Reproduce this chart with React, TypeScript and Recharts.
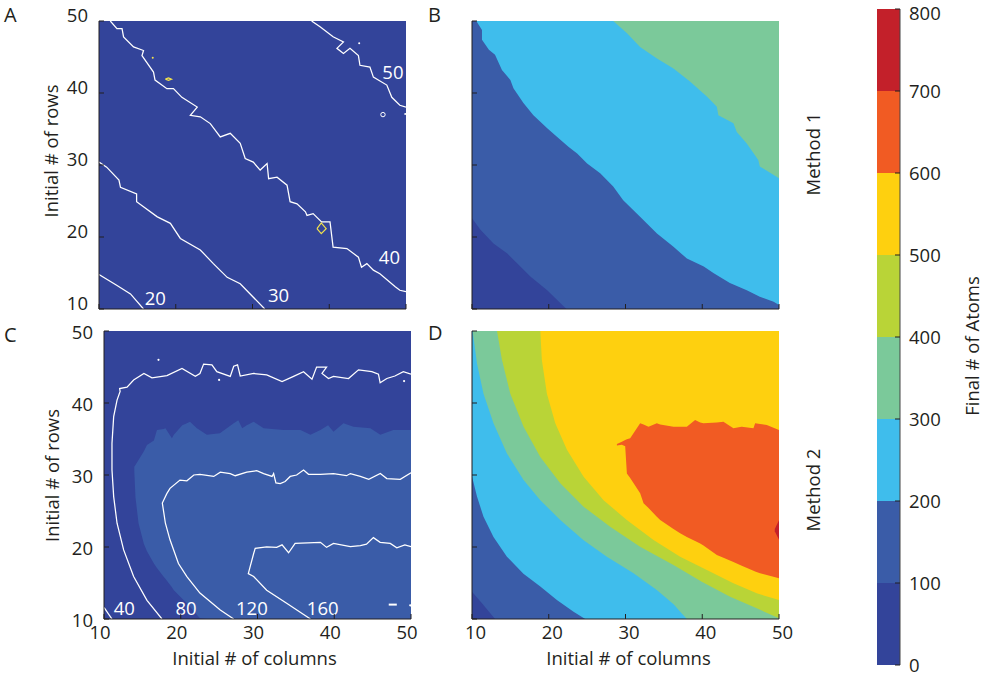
import React from 'react';
import { ComposedChart, BarChart, Bar, Area, Line, Scatter, XAxis, YAxis } from 'recharts';

type Pt = [number, number];
type Side = 'bottom' | 'top' | 'left' | 'right';

const INK = '#231f20';
const FONT = "'Open Sans', 'Liberation Sans', Arial, sans-serif";
const FS = 18.5;

// colour bar: one colour per 100 atoms
const BAND_EDGES = [0, 100, 200, 300, 400, 500, 600, 700, 800];
const BAND_COLORS = ['#33449a', '#3a5ca8', '#3fbdec', '#7bc99a', '#b9d437', '#fed00f', '#f15b23', '#c3202a'];
const GRID_TICKS = [10, 20, 30, 40, 50];
const FULL: Pt[] = [[10, 50], [50, 50]];

// ---- panel A (method 1, contour lines) ----
const A_C20: Pt[] = [[10, 14.8], [12.3, 13.3], [14.1, 12.1], [15.8, 10]];
const A_C30: Pt[] = [[10, 30.4], [11.0, 29.7], [12.6, 27.9], [12.8, 26.9], [14.9, 26.0], [14.9, 24.9], [17.6, 22.8], [19.3, 21.9], [20.6, 19.8], [23.2, 18.2], [24.9, 16.3], [26.7, 14.4], [28.4, 13.5], [31.6, 10]];
const A_C40: Pt[] = [[11.47, 50], [12.34, 48.94], [13.0, 48.94], [13.2, 47.78], [14.5, 46.4], [15.8, 45.9], [15.6, 45.2], [17.1, 42.9], [17.3, 41.8], [18.85, 40.6], [19.7, 40.6], [20.8, 39.4], [22.8, 38.05], [21.9, 36.9], [23.2, 36.7], [24.5, 35.75], [25.8, 33.9], [27.1, 34.4], [28.4, 33.0], [29.05, 30.9], [30.1, 30.4], [31.0, 29.3], [31.9, 30.2], [32.1, 28.1], [33.2, 28.3], [34.5, 27.2], [34.9, 24.9], [35.8, 24.6], [36.9, 23.5], [37.1, 23.0], [37.9, 23.25], [39.0, 22.1], [40.1, 22.1], [40.5, 18.6], [42.3, 18.4], [43.8, 17.2], [44.2, 15.8], [44.9, 16.3], [45.75, 15.4], [46.6, 14.9], [48.6, 13.1], [49.2, 12.6], [50, 12.4]];
const A_C50: Pt[] = [[37.7, 50], [38.8, 49.2], [40.5, 47.8], [41.85, 47.1], [41.0, 46.2], [41.85, 45.5], [42.7, 46.2], [43.8, 45.2], [44.0, 43.85], [45.3, 43.6], [45.75, 42.2], [47.5, 41.1], [48.15, 39.4], [49.2, 38.3], [50, 38.05]];
const A_YELLOW1: Pt[] = [[38.4, 21.15], [38.96, 21.95], [39.6, 21.15], [38.96, 20.47], [38.4, 21.15]];
const A_YELLOW2: Pt[] = [[18.65, 41.92], [19.05, 42.1], [19.45, 41.92], [19.05, 41.75], [18.65, 41.92]];
const A_YELLOW_DOTS: Pt[] = [[17.0, 44.9]];
const A_WHITE_DOTS: Pt[] = [[43.9, 46.9], [49.9, 37.1]];
const A_RINGS: Pt[] = [[47.0, 37.0]];
const A_LABEL_AT: Pt[] = [[17.33, 11.44], [33.4, 11.9], [47.84, 17.2], [48.3, 42.9]];
const A_LABEL_TEXT = ['20', '30', '40', '50'];

// ---- panel B (method 1, filled) ----
const B_C100: Pt[] = [[10, 22.6], [11.1, 21.0], [12.8, 19.1], [14.6, 17.7], [16.3, 15.9], [17.6, 14.5], [19.8, 12.6], [22.3, 10]];
const B_C200: Pt[] = [[10.56, 50], [11.3, 48.75], [11.3, 47.4], [12.2, 46.0], [13.0, 45.3], [13.9, 43.2], [15.0, 41.8], [15.4, 40.65], [16.7, 38.6], [18.0, 36.9], [19.8, 35.1], [21.1, 33.9], [22.6, 32.5], [23.7, 31.6], [25.0, 30.2], [26.7, 28.85], [28.4, 27.0], [29.7, 25.1], [31.9, 22.8], [34.1, 20.5], [36.25, 18.65], [38.0, 17.0], [40.2, 15.9], [41.5, 14.96], [43.6, 13.6], [45.8, 12.6], [47.5, 11.7], [49.3, 11.0], [50, 10.55]];
const B_C300: Pt[] = [[28.4, 50], [30.2, 48.3], [31.9, 46.4], [34.1, 44.8], [36.25, 43.4], [38.4, 41.6], [40.6, 39.5], [41.9, 38.1], [42.1, 36.9], [44.06, 35.8], [44.5, 34.6], [45.8, 33.0], [47.3, 30.7], [47.5, 29.8], [50, 28.15]];

// ---- panel C (method 2, contour lines) ----
const C_C40: Pt[] = [[10, 11.6], [11.04, 10]];
const C_C80: Pt[] = [[17.55, 10], [15.6, 12.6], [13.86, 15.9], [12.56, 19.6], [11.7, 23.3], [11.26, 27.0], [11.04, 30.7], [11.04, 34.4], [11.26, 38.1], [11.7, 40.4], [12.1, 41.6], [12.04, 42.0], [13.0, 42.2], [13.86, 43.2], [15.2, 44.1], [16.25, 43.5], [18.2, 43.8], [20.16, 44.8], [21.9, 43.7], [22.5, 44.1], [22.98, 45.4], [24.06, 45.3], [24.7, 44.35], [26.45, 43.7], [26.9, 45.1], [27.4, 45.3], [27.75, 43.75], [29.5, 44.1], [31.2, 43.9], [33.2, 42.96], [34.7, 43.7], [36.0, 44.35], [37.1, 43.3], [37.7, 45.0], [39.0, 45.0], [38.4, 44.1], [39.25, 43.4], [39.9, 43.7], [41.86, 43.4], [43.16, 44.6], [44.9, 44.35], [45.76, 44.0], [45.98, 42.8], [46.85, 43.4], [47.9, 43.75], [49.0, 44.35], [50, 44.0]];
const C_C120: Pt[] = [[26.9, 10], [25.15, 11.25], [22.5, 13.6], [20.8, 15.9], [19.7, 17.7], [18.6, 21.0], [18.0, 23.3], [17.6, 26.1], [18.2, 27.45], [18.6, 28.15], [19.9, 29.3], [20.8, 29.2], [21.7, 30.0], [22.5, 30.1], [24.3, 29.8], [25.15, 30.4], [26.45, 30.2], [27.1, 29.9], [28.6, 30.4], [29.9, 30.6], [30.8, 30.2], [31.9, 29.8], [32.1, 30.2], [32.4, 28.9], [32.96, 28.8], [33.6, 29.1], [34.26, 29.8], [35.1, 30.0], [36.0, 30.7], [36.65, 30.1], [38.2, 30.1], [39.9, 30.2], [41.6, 29.9], [42.1, 30.2], [43.4, 29.8], [44.5, 29.4], [46.0, 30.2], [46.85, 29.5], [48.6, 29.4], [50, 30.3]];
const C_C160: Pt[] = [[36.9, 10], [33.8, 12.2], [31.2, 14.0], [29.5, 15.9], [28.8, 16.3], [29.5, 19.1], [29.7, 19.8], [31.2, 20.0], [32.5, 19.95], [33.2, 20.3], [34.05, 19.2], [34.9, 20.5], [38.2, 20.65], [39.0, 19.95], [39.9, 20.5], [42.1, 20.05], [43.4, 20.2], [44.2, 20.4], [45.1, 21.3], [45.98, 20.65], [47.3, 20.5], [48.15, 19.9], [49.2, 20.3], [50, 20.05]];
const C_DASH: Pt[] = [[47.1, 12.0], [48.15, 12.0]];
const C_WHITE_DOTS: Pt[] = [[17.1, 46.0], [25.0, 43.2], [49.1, 43.05], [49.9, 11.9]];
// 100-200 band, lower and upper edge at each column value
const C_LIGHT_X = [13.95, 14.1, 14.5, 15.2, 15.6, 16.5, 16.9, 17.8, 18.0, 18.85, 19.1, 20.2, 20.8, 21.2, 22.1, 22.5, 23.4, 25.1, 26.9, 27.5, 28.0, 28.6, 29.5, 30.8, 33.4, 35.6, 36.9, 38.2, 39.2, 39.9, 41.2, 42.5, 44.7, 46.0, 47.7, 50];
const C_LIGHT_LO = [30.5, 26.9, 23.3, 20.4, 19.4, 17.7, 17.1, 15.85, 15.6, 14.4, 14.0, 12.8, 12.18, 11.7, 10.6, 10.1, 10, 10, 10, 10, 10, 10, 10, 10, 10, 10, 10, 10, 10, 10, 10, 10, 10, 10, 10, 10];
const C_LIGHT_HI = [31.16, 31.4, 32.1, 33.3, 34.17, 34.8, 36.25, 36.4, 36.5, 35.1, 35.6, 36.9, 37.2, 37.4, 36.5, 36.2, 35.6, 35.8, 37.2, 37.6, 36.5, 36.9, 37.4, 36.5, 36.25, 36.25, 35.6, 36.25, 36.9, 36.0, 37.2, 36.7, 36.5, 35.6, 36.25, 36.25];
const C_LABEL_AT: Pt[] = [[12.65, 11.48], [20.68, 11.48], [29.27, 11.48], [38.5, 11.48]];
const C_LABEL_TEXT = ['40', '80', '120', '160'];

// ---- panel D (method 2, filled) ----
const D_C100: Pt[] = [[10, 13.8], [11.3, 12.2], [13.0, 10]];
const D_C200: Pt[] = [[10, 29.8], [10.65, 27.0], [11.5, 24.2], [12.8, 21.4], [14.55, 18.66], [16.7, 16.3], [18.9, 14.5], [21.06, 12.64], [23.23, 11.0], [24.75, 10], [50, 10]];
const D_C300: Pt[] = [[10.08, 50], [10.65, 45.5], [11.5, 41.3], [12.8, 37.2], [14.55, 33.0], [16.72, 29.3], [18.9, 26.5], [21.5, 23.75], [24.5, 20.97], [27.57, 18.66], [31.05, 16.34], [34.08, 14.03], [36.3, 12.0], [37.3, 10.8], [38.0, 10], [50, 10]];
const D_C400: Pt[] = [[13.26, 50], [13.9, 46.0], [14.99, 41.3], [16.72, 36.7], [18.9, 32.5], [21.5, 28.84], [24.54, 25.6], [28.0, 22.8], [31.9, 20.05], [36.25, 17.5], [39.94, 15.19], [43.63, 13.1], [47.1, 11.48], [50, 10.1]];
const D_C500: Pt[] = [[18.9, 50], [19.1, 45.97], [19.76, 41.3], [20.85, 37.2], [22.37, 33.5], [24.54, 29.77], [27.14, 26.5], [30.17, 23.75], [33.65, 20.97], [37.12, 18.66], [40.6, 16.8], [44.06, 14.95], [47.1, 13.56], [50, 12.64]];
const D_600_X = [28.88, 29.53, 29.96, 30.18, 30.61, 31.91, 32.35, 33.0, 34.08, 34.52, 36.25, 37.12, 37.99, 39.07, 39.73, 40.16, 41.9, 42.76, 44.06, 44.93, 45.15, 46.67, 46.89, 47.53, 48.41, 50];
const D_600_LO = [34.1, 34.2, 34.0, 30.2, 29.6, 27.45, 26.06, 25.4, 24.2, 23.75, 22.5, 21.9, 21.4, 20.85, 20.5, 20.2, 18.9, 18.5, 17.9, 17.5, 17.4, 16.7, 16.6, 16.34, 16.1, 15.65];
const D_600_HI = [34.3, 34.63, 34.85, 34.95, 35.09, 37.18, 37.0, 36.7, 37.18, 37.0, 36.7, 36.7, 36.7, 37.64, 37.3, 37.18, 37.3, 37.4, 36.48, 36.65, 36.7, 36.48, 37.18, 37.1, 36.94, 36.25];
const D_700_X = [49.45, 50];
const D_700_LO = [22.2, 21.0];
const D_700_HI = [22.5, 23.7];

const pts = (a: Pt[]) => a.map(([x, y]) => ({ x, y }));
const band = (xs: number[], lo: number[], hi: number[]) => xs.map((x, i) => ({ x, lo: lo[i], hi: hi[i] }));
const labels = (at: Pt[], text: string[]) => at.map(([x, y], i) => ({ x, y, t: text[i] }));

function FrameTick({ x, y, value, side, show, dx, dy }: any) {
  const L = 5;
  const d =
    side === 'bottom' ? [x, y, x, y - L] :
    side === 'top' ? [x, y, x, y + L] :
    side === 'left' ? [x, y, x + L, y] : [x, y, x - L, y];
  const txt = { fontFamily: FONT, fontSize: FS, fill: INK };
  // the top colour-bar label would run off the page, nudge it down a little
  const edge = side === 'right' && value === 800 ? 4 : 0;
  return (
    <g>
      <line x1={d[0]} y1={d[1]} x2={d[2]} y2={d[3]} stroke={INK} strokeWidth={1} />
      {show && side === 'bottom' && <text x={x + dx} y={y + 20} textAnchor="middle" {...txt}>{value}</text>}
      {show && side === 'left' && <text x={x - 11} y={y + dy} textAnchor="end" {...txt}>{value}</text>}
      {show && side === 'right' && <text x={x + 9} y={y + dy + edge} textAnchor="start" {...txt}>{value}</text>}
    </g>
  );
}

const tickFor = (side: Side, show = false, dx = 0, dy = 0) => (p: any) => (
  <FrameTick x={p.x} y={p.y} value={p.payload?.value} side={side} show={show} dx={dx} dy={dy} />
);

const fill = (key: string, data: Pt[], color: string, base: number) => (
  <Area key={key} data={pts(data)} dataKey="y" type="linear" baseValue={base} fill={color} fillOpacity={1}
    stroke="none" dot={false} activeDot={false} isAnimationActive={false} />
);

const range = (key: string, data: any[], color: string) => (
  <Area key={key} data={data} dataKey={(d: any) => [d.lo, d.hi]} type="linear" fill={color} fillOpacity={1}
    stroke="none" dot={false} activeDot={false} isAnimationActive={false} />
);

const line = (key: string, data: Pt[], color = '#ffffff', w = 1.25) => (
  <Line key={key} data={pts(data)} dataKey="y" type="linear" stroke={color} strokeWidth={w}
    dot={false} activeDot={false} isAnimationActive={false} />
);

const dots = (key: string, data: Pt[], color: string, r = 1.3, ring = false) => (
  <Scatter key={key} data={pts(data)} dataKey="y" isAnimationActive={false}
    shape={(p: any) => ring
      ? <circle cx={p.cx} cy={p.cy} r={r} fill="none" stroke={color} strokeWidth={1} />
      : <circle cx={p.cx} cy={p.cy} r={r} fill={color} />} />
);

const contourLabels = (key: string, data: any[]) => (
  <Scatter key={key} data={data} dataKey="y" isAnimationActive={false}
    shape={(p: any) => (
      <text x={p.cx} y={p.cy + 6.6} textAnchor="middle" fontFamily={FONT} fontSize={FS} fill="#ffffff">{p.payload.t}</text>
    )} />
);

function Panel({ left, top, xShow = false, yShow = false, xdx = 0, ydy = 0, children }: any) {
  const axisLine = { stroke: INK, strokeWidth: 1 };
  return (
    <div style={{ position: 'absolute', left: left - 40, top: top - 10 }}>
      <ComposedChart width={357} height={328} margin={{ top: 10, right: 10, bottom: 0, left: 0 }}>
        {children}
        <XAxis type="number" dataKey="x" domain={[10, 50]} ticks={GRID_TICKS} interval={0} allowDataOverflow
          height={30} tickSize={0} tickMargin={0} tickLine={false} axisLine={axisLine} tick={tickFor('bottom', xShow, xdx)} />
        <XAxis xAxisId="t" orientation="top" type="number" dataKey="x" domain={[10, 50]} ticks={GRID_TICKS} interval={0}
          allowDataOverflow height={0} tickSize={0} tickMargin={0} tickLine={false} axisLine={axisLine} tick={tickFor('top')} />
        <YAxis type="number" dataKey="y" domain={[10, 50]} ticks={GRID_TICKS} interval={0} allowDataOverflow
          width={40} tickSize={0} tickMargin={0} tickLine={false} axisLine={axisLine} tick={tickFor('left', yShow, 0, ydy)} />
        <YAxis yAxisId="r" orientation="right" type="number" dataKey="y" domain={[10, 50]} ticks={GRID_TICKS} interval={0}
          allowDataOverflow width={0} tickSize={0} tickMargin={0} tickLine={false} axisLine={axisLine} tick={tickFor('right')} />
      </ComposedChart>
    </div>
  );
}

function ColorBar() {
  const row: any = { n: 'atoms' };
  BAND_COLORS.forEach((_, i) => { row[`b${i}`] = BAND_EDGES[i + 1] - BAND_EDGES[i]; });
  const frame = { stroke: '#444444', strokeWidth: 1 };
  return (
    <div style={{ position: 'absolute', left: 877, top: 0 }}>
      <BarChart width={103} height={677} data={[row]} margin={{ top: 9, right: 0, bottom: 12, left: 0 }}
        barCategoryGap={0} barGap={0}>
        {BAND_COLORS.map((c, i) => (
          <Bar key={c} dataKey={`b${i}`} stackId="cb" fill={c} isAnimationActive={false} />
        ))}
        <XAxis dataKey="n" height={0} tick={false} tickLine={false} axisLine={frame} />
        <XAxis xAxisId="t" dataKey="n" orientation="top" height={0} tick={false} tickLine={false} axisLine={frame} />
        <YAxis yAxisId="l" type="number" domain={[0, 800]} allowDataOverflow width={0} tick={false} tickLine={false} axisLine={frame} />
        <YAxis orientation="right" type="number" domain={[0, 800]} ticks={BAND_EDGES} interval={0} allowDataOverflow
          width={80} tickSize={0} tickMargin={0} tickLine={false} axisLine={frame} tick={tickFor('right', true, 0, 7)} />
      </BarChart>
    </div>
  );
}

export default function App() {
  const t = { fontFamily: FONT, fontSize: FS, fill: INK };
  return (
    <div style={{ position: 'absolute', left: 0, top: 0, width: 984, height: 677, background: '#ffffff' }}>
      <style>{'.recharts-surface{overflow:visible}'}</style>

      <Panel left={99} top={21} yShow ydy={1}>
        {fill('bg', FULL, BAND_COLORS[0], 10)}
        {line('c20', A_C20)}
        {line('c30', A_C30)}
        {line('c40', A_C40)}
        {line('c50', A_C50)}
        {line('y1', A_YELLOW1, '#f3e34b', 1.2)}
        {line('y2', A_YELLOW2, '#f3e34b', 1.2)}
        {dots('yd', A_YELLOW_DOTS, '#f3e34b', 1)}
        {dots('wd', A_WHITE_DOTS, '#ffffff', 1)}
        {dots('wr', A_RINGS, '#ffffff', 2.2, true)}
        {contourLabels('lab', labels(A_LABEL_AT, A_LABEL_TEXT))}
      </Panel>

      <Panel left={472} top={21}>
        {fill('bg', FULL, BAND_COLORS[1], 10)}
        {fill('b100', B_C100, BAND_COLORS[0], 10)}
        {fill('b200', B_C200, BAND_COLORS[2], 50)}
        {fill('b300', B_C300, BAND_COLORS[3], 50)}
      </Panel>

      <Panel left={104} top={331} xShow yShow xdx={-4} ydy={7.5}>
        {fill('bg', FULL, BAND_COLORS[0], 10)}
        {range('light', band(C_LIGHT_X, C_LIGHT_LO, C_LIGHT_HI), BAND_COLORS[1])}
        {line('c40', C_C40)}
        {line('c80', C_C80)}
        {line('c120', C_C120)}
        {line('c160', C_C160)}
        {line('dash', C_DASH, '#ffffff', 2)}
        {dots('wd', C_WHITE_DOTS, '#ffffff', 1.1)}
        {contourLabels('lab', labels(C_LABEL_AT, C_LABEL_TEXT))}
      </Panel>

      <Panel left={472} top={331} xShow xdx={3.5}>
        {fill('bg', FULL, BAND_COLORS[1], 10)}
        {fill('d100', D_C100, BAND_COLORS[0], 10)}
        {fill('d200', D_C200, BAND_COLORS[2], 50)}
        {fill('d300', D_C300, BAND_COLORS[3], 50)}
        {fill('d400', D_C400, BAND_COLORS[4], 50)}
        {fill('d500', D_C500, BAND_COLORS[5], 50)}
        {range('d600', band(D_600_X, D_600_LO, D_600_HI), BAND_COLORS[6])}
        {range('d700', band(D_700_X, D_700_LO, D_700_HI), BAND_COLORS[7])}
      </Panel>

      <ColorBar />

      <svg width={984} height={677} style={{ position: 'absolute', left: 0, top: 0, pointerEvents: 'none' }}>
        <text x={4} y={21.5} fontFamily={FONT} fontSize={20} fill={INK}>A</text>
        <text x={428} y={21.5} fontFamily={FONT} fontSize={20} fill={INK}>B</text>
        <text x={4} y={342} fontFamily={FONT} fontSize={20} fill={INK}>C</text>
        <text x={428} y={340} fontFamily={FONT} fontSize={20} fill={INK}>D</text>
        <text transform="translate(58,151) rotate(-90)" textAnchor="middle" {...t}>Initial # of rows</text>
        <text transform="translate(58.5,475.5) rotate(-90)" textAnchor="middle" {...t}>Initial # of rows</text>
        <text x={254.5} y={665} textAnchor="middle" {...t}>Initial # of columns</text>
        <text x={628.5} y={665} textAnchor="middle" {...t}>Initial # of columns</text>
        <text transform="translate(819.5,154) rotate(-90)" textAnchor="middle" {...t}>Method 1</text>
        <text transform="translate(819.5,490) rotate(-90)" textAnchor="middle" {...t}>Method 2</text>
        <text transform="translate(978.5,346) rotate(-90)" textAnchor="middle" {...t}>Final # of Atoms</text>
      </svg>
    </div>
  );
}
